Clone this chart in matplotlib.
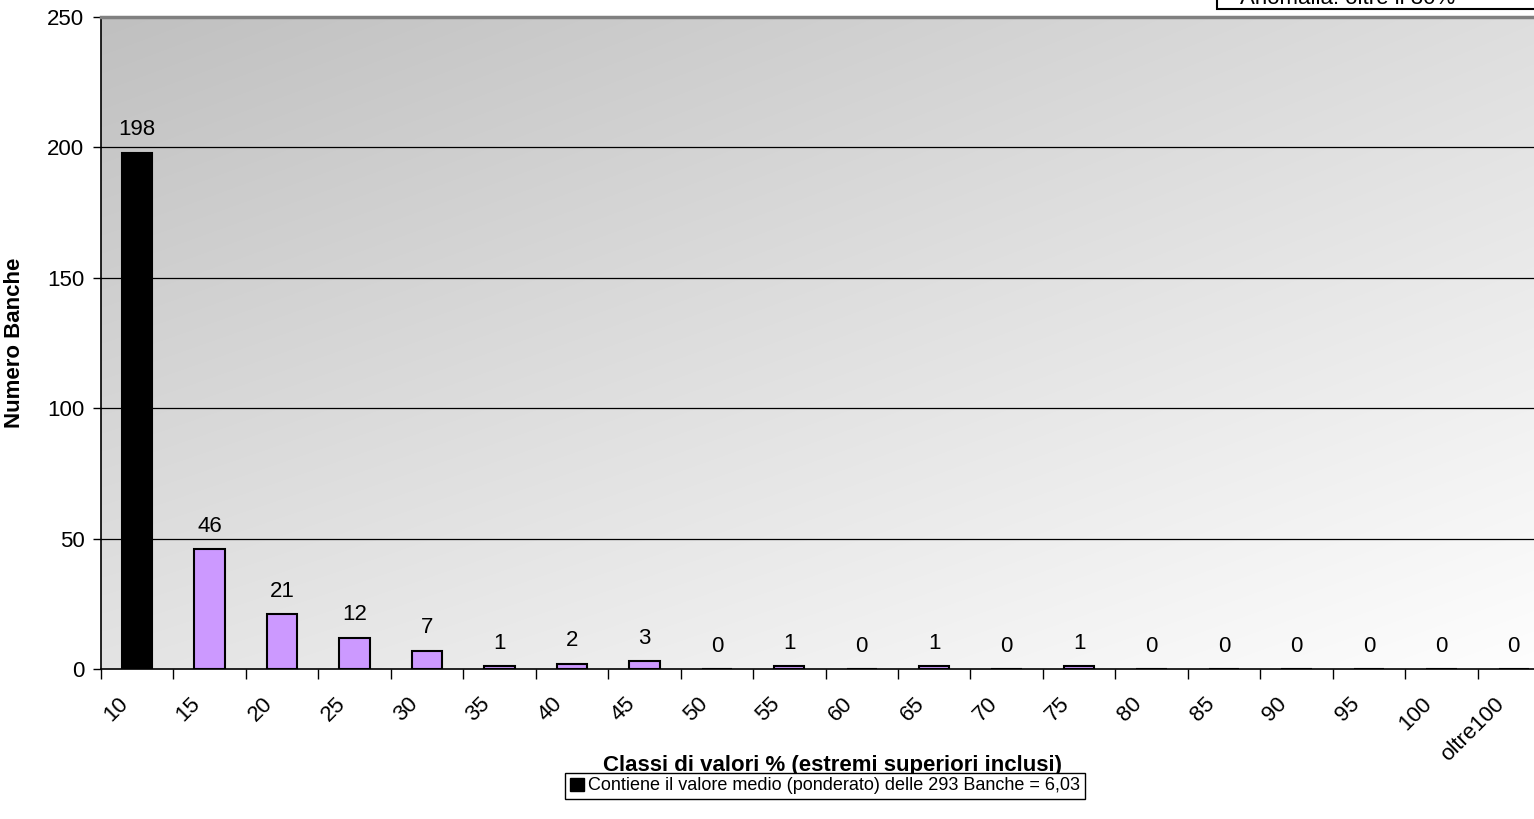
import numpy as np
import matplotlib
matplotlib.use("Agg")
import matplotlib.pyplot as plt
import matplotlib.transforms as mtransforms
from matplotlib.patches import Patch, Rectangle

plt.rcParams["font.family"] = ["Liberation Sans", "DejaVu Sans"]

# classi (estremo superiore) e numero di banche per classe
classi = ["10", "15", "20", "25", "30", "35", "40", "45", "50", "55",
          "60", "65", "70", "75", "80", "85", "90", "95", "100", "oltre100"]
banche = [198, 46, 21, 12, 7, 1, 2, 3, 0, 1, 0, 1, 0, 1, 0, 0, 0, 0, 0, 0]
classe_media = 0  # classe che contiene il valore medio ponderato

W, H = 1534, 819
fig = plt.figure(figsize=(W / 100, H / 100), dpi=100)

left, right, top, bottom = 101, 1550, 17, 669
ax = fig.add_axes([left / W, 1 - bottom / H, (right - left) / W, (bottom - top) / H])

n = len(classi)
x = np.arange(n)
ax.set_xlim(-0.5, n - 0.5)
ax.set_ylim(0, 250)

# sfondo sfumato (grigio in alto a sinistra -> bianco in basso a destra)
gx = np.linspace(0, 1, 200)
gy = np.linspace(0, 1, 200)
GX, GY = np.meshgrid(gx, gy)  # GY=0 in alto
tl, tr, bl, br = 192, 222, 228, 254
grad = (tl * (1 - GX) * (1 - GY) + tr * GX * (1 - GY)
        + bl * (1 - GX) * GY + br * GX * GY) / 255.0
ax.imshow(np.dstack([grad, grad, grad]), extent=(-0.5, n - 0.5, 0, 250),
          origin="upper", aspect="auto", zorder=0, interpolation="bilinear")

# griglia orizzontale
for yv in [50, 100, 150, 200]:
    ax.axhline(yv, color="black", lw=0.9, zorder=1)

colori = ["black" if i == classe_media else "#CC99FF" for i in range(n)]
ax.bar(x, banche, width=0.42, color=colori, edgecolor="black", linewidth=1.5, zorder=2)

for xi, v in zip(x, banche):
    ax.annotate(str(v), (xi, v), xytext=(0, 9), textcoords="offset points",
                ha="center", va="bottom", fontsize=16, zorder=3)

ax.set_yticks([0, 50, 100, 150, 200, 250])
ax.tick_params(axis="y", labelsize=16, length=6, width=1, direction="out", pad=6)

ax.set_xticks(x)
ax.set_xticklabels(classi, rotation=45, ha="right", va="center",
                   rotation_mode="anchor", fontsize=16)
ax.tick_params(axis="x", which="major", length=0, pad=23)
shift = mtransforms.ScaledTranslation(-9 / 72, 0, fig.dpi_scale_trans)
for lab in ax.get_xticklabels():
    lab.set_transform(lab.get_transform() + shift)
ax.set_xticks(np.arange(-0.5, n, 1.0), minor=True)
ax.tick_params(axis="x", which="minor", length=7, width=1, direction="out")

for s in ["left", "bottom"]:
    ax.spines[s].set_color("black")
    ax.spines[s].set_linewidth(1.2)
ax.spines["top"].set_color("#808080")
ax.spines["top"].set_linewidth(2.5)
ax.spines["right"].set_visible(False)

ax.set_ylabel("Numero Banche", fontsize=16, fontweight="bold")
ax.yaxis.set_label_coords(-(left - 25) / (right - left), 0.5)
ax.set_xlabel("Classi di valori % (estremi superiori inclusi)", fontsize=16,
              fontweight="bold", va="center")
ax.xaxis.set_label_coords((832 - left) / (right - left), -(765 - bottom) / (bottom - top))

fig.legend(handles=[Patch(facecolor="black", edgecolor="black")],
           labels=["Contiene il valore medio (ponderato) delle 293 Banche = 6,03"],
           loc="center", bbox_to_anchor=(825 / W, 1 - 786 / H), fontsize=13,
           frameon=True, fancybox=False, edgecolor="black", framealpha=1,
           handlelength=0.75, handleheight=0.75, handletextpad=0.25,
           borderpad=0.25, borderaxespad=0)

# riquadro in alto a destra (in parte fuori dal foglio)
fig.patches.append(Rectangle((1217 / W, 1 - 9 / H), 0.3, 0.1, transform=fig.transFigure,
                             facecolor="white", edgecolor="black", lw=1.5))
fig.text(1240 / W, 1 - 4 / H, "Anomalia: oltre il 30%", fontsize=16,
         ha="left", va="baseline")

fig.savefig("out.png", dpi=100)
